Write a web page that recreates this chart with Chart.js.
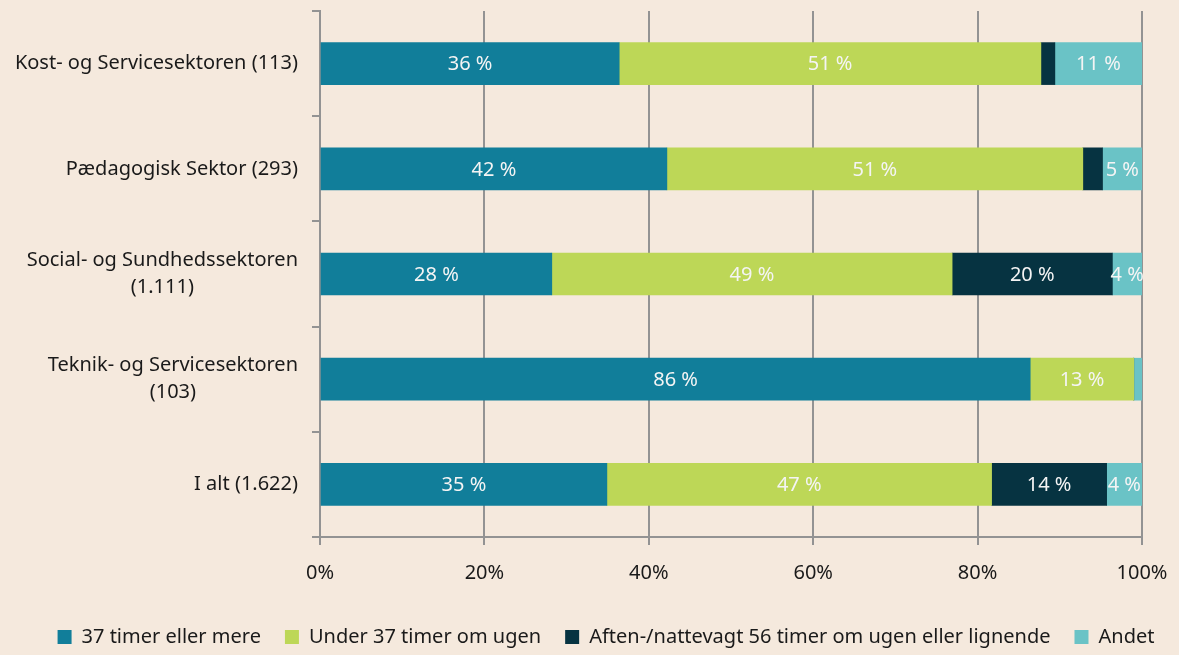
<!DOCTYPE html>
<html>
<head>
<meta charset="utf-8">
<script src="https://cdn.jsdelivr.net/npm/chart.js@4.4.0/dist/chart.umd.min.js"></script>
<style>
  html, body { margin: 0; padding: 0; background: #F5E9DD; }
  #wrap { width: 1179px; height: 655px; }
</style>
</head>
<body>
<div id="wrap"><canvas id="chart" width="1179" height="655"></canvas></div>
<script>
// data (percent of each sector)
var categories = [
    ['Kost- og Servicesektoren (113)'],
    ['Pædagogisk Sektor (293)'],
    ['Social- og Sundhedssektoren', '(1.111)'],
    ['Teknik- og Servicesektoren', '(103)'],
    ['I alt (1.622)']
]
var seriesNames = ['37 timer eller mere', 'Under 37 timer om ugen', 'Aften-/nattevagt 56 timer om ugen eller lignende', 'Andet']
var timer37 = [36.4, 42.2, 28.2, 86.4, 34.9]
var under37 = [51.3, 50.6, 48.7, 12.6, 46.8]
var aftenNat = [1.7, 2.4, 19.5, 0, 14.0]
var andet = [10.6, 4.8, 3.6, 1.0, 4.3]
var xTicks = [0, 20, 40, 60, 80, 100]

var colors = ['#117E9A', '#BDD757', '#063341', '#6AC3C6']
var gridColor = '#939393'
var textColor = '#1a1a1a'

Chart.defaults.font.family = '"Noto Sans", sans-serif'
Chart.defaults.font.size = 20
Chart.defaults.color = textColor

// y labels: block right aligned, lines centered to each other
var yLabelPlugin = {
    id: 'yLabels',
    afterDraw: function (chart) {
        var ctx = chart.ctx
        var scale = chart.scales.y
        ctx.save()
        ctx.font = '20px "Noto Sans"'
        ctx.fillStyle = textColor
        ctx.textAlign = 'center'
        ctx.textBaseline = 'middle'
        categories.forEach(function (lines, i) {
            var y = scale.getPixelForValue(i)
            var widest = Math.max.apply(null, lines.map(function (l) { return ctx.measureText(l).width }))
            var x = scale.right - 22 - widest / 2
            var top = y - (lines.length - 1) * 27 / 2
            lines.forEach(function (line, j) {
                ctx.fillText(line, x, top + j * 27)
            })
        })
        ctx.restore()
    }
}

// value labels inside the segments
var barLabelPlugin = {
    id: 'barLabels',
    afterDatasetsDraw: function (chart) {
        var ctx = chart.ctx
        ctx.save()
        ctx.font = '20px "Noto Sans"'
        ctx.fillStyle = '#F4F4F4'
        ctx.textAlign = 'center'
        ctx.textBaseline = 'middle'
        chart.data.datasets.forEach(function (ds, i) {
            chart.getDatasetMeta(i).data.forEach(function (bar, j) {
                var v = ds.data[j]
                if (v < 3) return
                var p = bar.getCenterPoint()
                ctx.fillText(Math.round(v) + ' %', p.x, p.y + 1)
            })
        })
        ctx.restore()
    }
}

function makeSet(idx, values) {
    return {
        label: seriesNames[idx],
        data: values,
        backgroundColor: colors[idx],
        borderWidth: 0,
        barThickness: 42
    }
}

var ctx = document.getElementById('chart').getContext('2d')
var chart = new Chart(ctx, {
    type: 'bar',
    data: {
        labels: categories,
        datasets: [
            makeSet(0, timer37),
            makeSet(1, under37),
            makeSet(2, aftenNat),
            makeSet(3, andet)
        ]
    },
    options: {
        indexAxis: 'y',
        responsive: false,
        animation: false,
        layout: { padding: { left: 33, right: 0, top: 11, bottom: -2 } },
        scales: {
            x: {
                stacked: true,
                min: 0,
                max: 100,
                afterBuildTicks: function (scale) {
                    scale.ticks = xTicks.map(function (v) { return { value: v } })
                },
                ticks: {
                    padding: 4,
                    maxRotation: 0,
                    font: { size: 20, lineHeight: 2.4 },
                    callback: function (v) { return v + '%' }
                },
                grid: { color: gridColor, lineWidth: 2, tickLength: 8 },
                border: { color: gridColor, width: 2 },
                afterFit: function (scale) { scale.height = 66 }
            },
            y: {
                stacked: true,
                ticks: { color: 'transparent', padding: 0, font: { size: 1 } },
                grid: { color: gridColor, lineWidth: 2, drawOnChartArea: false, tickLength: 8, offset: true },
                border: { color: gridColor, width: 2 },
                afterFit: function (scale) { scale.width = 287 }
            },
            y2: {
                type: 'linear',
                position: 'right',
                grid: { display: false },
                ticks: { display: false },
                border: { display: false },
                afterFit: function (scale) { scale.width = 37 }
            }
        },
        plugins: {
            tooltip: { enabled: false },
            legend: {
                position: 'bottom',
                labels: {
                    boxWidth: 14,
                    boxHeight: 14,
                    padding: 24,
                    color: textColor,
                    font: { size: 20 }
                }
            }
        }
    },
    plugins: [yLabelPlugin, barLabelPlugin]
})
</script>
</body>
</html>
